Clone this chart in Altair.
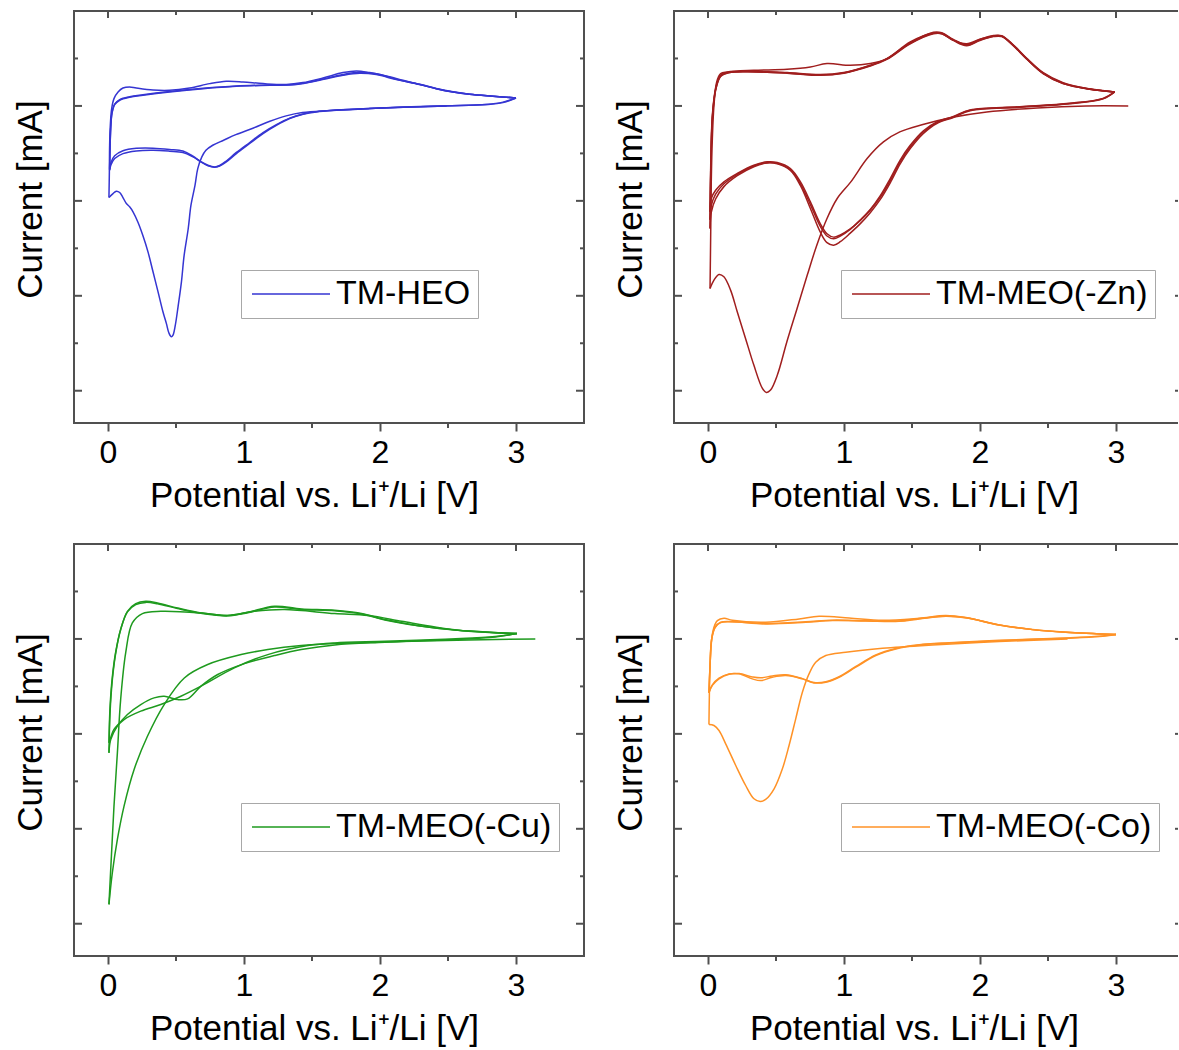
import altair as alt
import pandas as pd

FONT = "Liberation Sans"
FRAME = "#505050"

# ---------------- TM-HEO ----------------
HEO_C1_V = [2.49, 1.92, 1.63, 1.43, 1.31, 1.19, 1.07, 0.94, 0.85, 0.77, 0.72, 0.69, 0.66, 0.64, 0.61, 0.59, 0.56, 0.54, 0.515, 0.495, 0.478, 0.466, 0.449, 0.429, 0.404, 0.368, 0.331, 0.294, 0.257, 0.221, 0.184, 0.159, 0.135, 0.11, 0.086, 0.061, 0.037, 0.007]
HEO_C1_I = [0.0, -0.028, -0.049, -0.07, -0.105, -0.161, -0.232, -0.302, -0.361, -0.414, -0.467, -0.537, -0.66, -0.835, -1.046, -1.291, -1.572, -1.853, -2.116, -2.309, -2.414, -2.432, -2.396, -2.291, -2.168, -1.958, -1.747, -1.537, -1.368, -1.228, -1.116, -1.063, -1.028, -0.965, -0.912, -0.898, -0.923, -0.965]
HEO_A1_V = [0.007, 0.01, 0.012, 0.017, 0.027, 0.044, 0.074, 0.11, 0.159, 0.208, 0.331, 0.453, 0.6, 0.748, 0.87, 0.993, 1.14, 1.311, 1.434, 1.581, 1.728, 1.826, 1.924, 2.047, 2.169, 2.292, 2.414, 2.537, 2.659, 2.831, 3.0]
HEO_A1_I = [-0.965, -0.695, -0.414, -0.204, -0.028, 0.077, 0.147, 0.189, 0.2, 0.189, 0.168, 0.165, 0.189, 0.235, 0.26, 0.253, 0.235, 0.225, 0.246, 0.295, 0.351, 0.368, 0.351, 0.316, 0.27, 0.225, 0.182, 0.147, 0.123, 0.102, 0.084]
HEO_C2_V = [3.0, 2.904, 2.782, 2.488, 2.169, 1.924, 1.679, 1.532, 1.434, 1.336, 1.238, 1.14, 1.042, 0.944, 0.87, 0.821, 0.784, 0.735, 0.686, 0.625, 0.551, 0.453, 0.331, 0.208, 0.11, 0.049, 0.022, 0.012]
HEO_C2_I = [0.084, 0.035, 0.014, 0.0, -0.014, -0.028, -0.046, -0.063, -0.088, -0.133, -0.204, -0.291, -0.396, -0.502, -0.589, -0.632, -0.642, -0.625, -0.589, -0.537, -0.491, -0.477, -0.467, -0.474, -0.502, -0.554, -0.618, -0.677]
HEO_C3_I = [0.084, 0.04, 0.016, 0.002, -0.012, -0.026, -0.043, -0.06, -0.085, -0.128, -0.196, -0.28, -0.385, -0.49, -0.58, -0.628, -0.645, -0.63, -0.592, -0.53, -0.475, -0.458, -0.445, -0.447, -0.472, -0.525, -0.595, -0.66]
HEO_A2_V = [0.012, 0.015, 0.02, 0.029, 0.049, 0.086, 0.159, 0.257, 0.453, 0.699, 0.944, 1.189, 1.385, 1.556, 1.728, 1.85, 1.973, 2.12, 2.292, 2.414, 2.537, 2.659, 2.831, 3.0]
HEO_A2_I = [-0.677, -0.449, -0.239, -0.081, 0.014, 0.06, 0.091, 0.112, 0.147, 0.182, 0.207, 0.218, 0.225, 0.27, 0.323, 0.344, 0.33, 0.277, 0.225, 0.182, 0.147, 0.123, 0.102, 0.084]
HEO_A3_I = [-0.66, -0.44, -0.23, -0.075, 0.018, 0.066, 0.097, 0.118, 0.152, 0.186, 0.21, 0.22, 0.228, 0.275, 0.332, 0.355, 0.338, 0.282, 0.228, 0.184, 0.149, 0.124, 0.103, 0.084]

# ---------------- TM-MEO(-Zn) ----------------
ZN_C1_V = [3.09, 2.78, 2.42, 2.05, 1.80, 1.58, 1.41, 1.29, 1.17, 1.05, 0.95, 0.875, 0.80, 0.73, 0.655, 0.58, 0.51, 0.46, 0.43, 0.40, 0.337, 0.276, 0.215, 0.166, 0.117, 0.081, 0.044, 0.015]
ZN_C1_I = [0.0, 0.0, -0.021, -0.063, -0.119, -0.196, -0.274, -0.379, -0.554, -0.8, -0.975, -1.186, -1.467, -1.782, -2.133, -2.484, -2.835, -2.993, -3.018, -2.975, -2.73, -2.449, -2.168, -1.94, -1.8, -1.775, -1.835, -1.923]
ZN_A1_V = [0.015, 0.02, 0.024, 0.032, 0.044, 0.064, 0.093, 0.142, 0.337, 0.582, 0.753, 0.875, 1.046, 1.193, 1.315, 1.487, 1.658, 1.719, 1.804, 1.902, 1.999, 2.098, 2.159, 2.244, 2.342, 2.465, 2.611, 2.807, 2.99]
ZN_A1_I = [-1.923, -1.326, -0.8, -0.344, 0.007, 0.253, 0.34, 0.358, 0.375, 0.386, 0.41, 0.446, 0.428, 0.446, 0.498, 0.674, 0.768, 0.761, 0.691, 0.656, 0.702, 0.737, 0.737, 0.639, 0.498, 0.34, 0.235, 0.175, 0.147]
ZN_C2_V = [2.99, 2.905, 2.66, 2.293, 1.927, 1.804, 1.682, 1.584, 1.487, 1.413, 1.34, 1.267, 1.193, 1.12, 1.046, 0.973, 0.924, 0.875, 0.826, 0.753, 0.68, 0.606, 0.509, 0.435, 0.337, 0.215, 0.117, 0.056, 0.024, 0.015]
ZN_C2_I = [0.147, 0.077, 0.025, -0.011, -0.046, -0.116, -0.175, -0.274, -0.432, -0.589, -0.786, -0.961, -1.1, -1.207, -1.295, -1.358, -1.382, -1.347, -1.242, -1.011, -0.8, -0.66, -0.596, -0.589, -0.625, -0.712, -0.8, -0.888, -0.975, -1.116]
ZN_C3_I = [0.147, 0.08, 0.028, -0.008, -0.042, -0.11, -0.168, -0.262, -0.415, -0.57, -0.765, -0.945, -1.09, -1.2, -1.3, -1.37, -1.4, -1.37, -1.27, -1.04, -0.82, -0.672, -0.605, -0.598, -0.632, -0.72, -0.82, -0.93, -1.05, -1.2]
ZN_C4_I = [0.147, 0.074, 0.022, -0.014, -0.05, -0.122, -0.185, -0.29, -0.45, -0.61, -0.81, -0.985, -1.125, -1.24, -1.34, -1.43, -1.467, -1.44, -1.33, -1.08, -0.84, -0.68, -0.61, -0.6, -0.64, -0.735, -0.85, -0.98, -1.12, -1.29]
ZN_A2_V = [0.015, 0.02, 0.032, 0.056, 0.093, 0.154, 0.337, 0.582, 0.826, 0.998, 1.193, 1.315, 1.487, 1.658, 1.719, 1.804, 1.902, 1.999, 2.098, 2.159, 2.244, 2.342, 2.465, 2.611, 2.807, 2.99]
ZN_A2_I = [-1.116, -0.625, -0.098, 0.182, 0.323, 0.358, 0.365, 0.351, 0.33, 0.351, 0.428, 0.498, 0.665, 0.775, 0.77, 0.7, 0.645, 0.7, 0.742, 0.74, 0.645, 0.505, 0.35, 0.245, 0.18, 0.147]
ZN_A3_I = [-1.2, -0.68, -0.12, 0.17, 0.315, 0.352, 0.36, 0.348, 0.325, 0.348, 0.425, 0.495, 0.66, 0.765, 0.765, 0.695, 0.64, 0.695, 0.735, 0.735, 0.64, 0.5, 0.345, 0.24, 0.178, 0.147]
ZN_A4_I = [-1.29, -0.75, -0.14, 0.165, 0.31, 0.35, 0.358, 0.345, 0.322, 0.345, 0.42, 0.49, 0.655, 0.76, 0.76, 0.69, 0.635, 0.69, 0.73, 0.73, 0.635, 0.495, 0.34, 0.235, 0.175, 0.147]

# ---------------- TM-MEO(-Cu) ----------------
CU_C1_V = [3.142, 2.651, 2.159, 1.667, 1.421, 1.175, 0.979, 0.733, 0.561, 0.413, 0.29, 0.192, 0.118, 0.069, 0.032, 0.007]
CU_C1_I = [0.0, -0.011, -0.028, -0.049, -0.07, -0.112, -0.165, -0.27, -0.411, -0.691, -1.025, -1.375, -1.761, -2.112, -2.463, -2.796]
CU_A1_V = [0.007, 0.025, 0.044, 0.069, 0.093, 0.13, 0.179, 0.253, 0.388, 0.684, 0.88, 1.077, 1.298, 1.667, 1.913, 2.159, 2.405, 2.651, 3.007]
CU_A1_I = [-2.796, -2.288, -1.761, -1.2, -0.639, -0.147, 0.168, 0.267, 0.291, 0.274, 0.246, 0.291, 0.309, 0.267, 0.246, 0.186, 0.126, 0.081, 0.056]
CU_C2_V = [3.007, 2.847, 2.528, 2.036, 1.667, 1.421, 1.224, 1.003, 0.807, 0.684, 0.585, 0.511, 0.413, 0.339, 0.241, 0.143, 0.069, 0.02, 0.007]
CU_C2_I = [0.056, 0.021, -0.007, -0.035, -0.063, -0.112, -0.175, -0.26, -0.375, -0.498, -0.632, -0.639, -0.604, -0.621, -0.691, -0.796, -0.919, -1.06, -1.2]
CU_C3_V = [3.007, 2.847, 2.528, 2.036, 1.667, 1.47, 1.175, 0.929, 0.684, 0.536, 0.388, 0.241, 0.118, 0.044, 0.01]
CU_C3_I = [0.056, 0.025, 0.0, -0.025, -0.042, -0.07, -0.165, -0.305, -0.498, -0.604, -0.691, -0.761, -0.849, -0.954, -1.095]
CU_A2_V = [0.007, 0.015, 0.032, 0.057, 0.093, 0.143, 0.204, 0.278, 0.364, 0.511, 0.684, 0.88, 1.028, 1.224, 1.421, 1.667, 1.864, 2.036, 2.282, 2.528, 2.774, 3.007]
CU_A2_I = [-1.2, -0.779, -0.428, -0.147, 0.098, 0.291, 0.372, 0.396, 0.379, 0.326, 0.274, 0.246, 0.281, 0.344, 0.316, 0.302, 0.267, 0.204, 0.14, 0.098, 0.074, 0.056]
CU_A3_I = [-1.095, -0.72, -0.4, -0.135, 0.1, 0.285, 0.362, 0.385, 0.37, 0.32, 0.27, 0.243, 0.276, 0.336, 0.31, 0.296, 0.262, 0.2, 0.138, 0.097, 0.073, 0.056]

# ---------------- TM-MEO(-Co) ----------------
CO_C1_V = [2.644, 2.141, 1.651, 1.283, 1.013, 0.866, 0.792, 0.743, 0.694, 0.645, 0.596, 0.547, 0.486, 0.424, 0.383, 0.338, 0.277, 0.204, 0.13, 0.081, 0.044, 0.007]
CO_C1_I = [0.0, -0.028, -0.063, -0.098, -0.14, -0.175, -0.246, -0.368, -0.561, -0.842, -1.123, -1.368, -1.579, -1.691, -1.712, -1.684, -1.544, -1.333, -1.105, -0.965, -0.912, -0.902]
CO_A1_V = [0.007, 0.01, 0.017, 0.037, 0.069, 0.118, 0.179, 0.424, 0.67, 0.817, 1.038, 1.283, 1.553, 1.749, 1.896, 2.141, 2.387, 2.632, 3.0]
CO_A1_I = [-0.902, -0.596, -0.211, 0.088, 0.193, 0.218, 0.196, 0.175, 0.211, 0.239, 0.221, 0.196, 0.218, 0.246, 0.225, 0.147, 0.098, 0.07, 0.046]
CO_C2_V = [3.0, 2.877, 2.632, 2.141, 1.773, 1.553, 1.381, 1.234, 1.087, 0.964, 0.866, 0.78, 0.694, 0.572, 0.473, 0.388, 0.326, 0.228, 0.155, 0.081, 0.032, 0.007]
CO_C2_I = [0.046, 0.025, 0.007, -0.018, -0.042, -0.063, -0.105, -0.175, -0.298, -0.404, -0.456, -0.463, -0.421, -0.386, -0.404, -0.439, -0.421, -0.368, -0.368, -0.414, -0.484, -0.561]
CO_C3_I = [0.046, 0.028, 0.01, -0.015, -0.04, -0.06, -0.1, -0.168, -0.29, -0.398, -0.452, -0.46, -0.418, -0.378, -0.39, -0.41, -0.4, -0.365, -0.372, -0.42, -0.49, -0.57]
CO_A2_V = [0.007, 0.015, 0.027, 0.052, 0.093, 0.179, 0.424, 0.719, 0.915, 1.16, 1.405, 1.553, 1.749, 1.896, 2.141, 2.387, 2.632, 3.0]
CO_A2_I = [-0.561, -0.281, 0.0, 0.123, 0.175, 0.182, 0.158, 0.175, 0.193, 0.189, 0.186, 0.211, 0.239, 0.222, 0.147, 0.098, 0.07, 0.046]
CO_A3_I = [-0.57, -0.29, -0.005, 0.12, 0.172, 0.18, 0.162, 0.18, 0.198, 0.192, 0.19, 0.214, 0.242, 0.224, 0.148, 0.099, 0.07, 0.046]

PANELS = [
    ("TM-HEO", "#3535d2", [
        ("c1", HEO_C1_V, HEO_C1_I), ("a1", HEO_A1_V, HEO_A1_I),
        ("c2", HEO_C2_V, HEO_C2_I), ("a2", HEO_A2_V, HEO_A2_I),
        ("c3", HEO_C2_V, HEO_C3_I), ("a3", HEO_A2_V, HEO_A3_I)]),
    ("TM-MEO(-Zn)", "#a01e1e", [
        ("c1", ZN_C1_V, ZN_C1_I), ("a1", ZN_A1_V, ZN_A1_I),
        ("c2", ZN_C2_V, ZN_C2_I), ("a2", ZN_A2_V, ZN_A2_I),
        ("c3", ZN_C2_V, ZN_C3_I), ("a3", ZN_A2_V, ZN_A3_I),
        ("c4", ZN_C2_V, ZN_C4_I), ("a4", ZN_A2_V, ZN_A4_I)]),
    ("TM-MEO(-Cu)", "#1e9a1e", [
        ("c1", CU_C1_V, CU_C1_I), ("a1", CU_A1_V, CU_A1_I),
        ("c2", CU_C2_V, CU_C2_I), ("a2", CU_A2_V, CU_A2_I),
        ("c3", CU_C3_V, CU_C3_I), ("a3", CU_A2_V, CU_A3_I)]),
    ("TM-MEO(-Co)", "#ff9226", [
        ("c1", CO_C1_V, CO_C1_I), ("a1", CO_A1_V, CO_A1_I),
        ("c2", CO_C2_V, CO_C2_I), ("a2", CO_A2_V, CO_A2_I),
        ("c3", CO_C2_V, CO_C3_I), ("a3", CO_A2_V, CO_A3_I)]),
]

X_MAJOR = [0, 1, 2, 3]
X_MINOR = [0.5, 1.5, 2.5]
Y_MAJOR = [0, -1, -2, -3]
Y_MINOR = [0.5, -0.5, -1.5, -2.5]
Y_DOMAIN = [-3.34, 1.0]
PX_PER_V = 136.0
H = 412
W_LEFT = 510   # left column: -0.25 .. 3.5 V
W_RIGHT = 504  # right column is cut by the page edge, as in the original


def make_panel(name, color, sweeps, width, cut_right):
    x_domain = [-0.25, -0.25 + width / PX_PER_V]
    rows = []
    for sid, vs, cs in sweeps:
        for k, (v, c) in enumerate(zip(vs, cs)):
            rows.append({"sample": name, "sweep": sid, "k": k, "V": v, "I": c})
    df = pd.DataFrame(rows)

    xenc = alt.X("V:Q", scale=alt.Scale(domain=x_domain, nice=False, zero=False),
                 axis=alt.Axis(values=X_MAJOR, format="d", labelFontSize=32, labelFont=FONT,
                               labelColor="black", labelPadding=6, tickSize=8, tickWidth=2,
                               tickColor=FRAME, domain=False, grid=False,
                               title="Potential vs. Li⁺/Li [V]", titleFont=FONT, titleFontSize=35,
                               titleFontWeight="normal", titleColor="black", titleX=240, titleY=83,
                               titleAlign="center", titleBaseline="alphabetic"))
    yenc = alt.Y("I:Q", scale=alt.Scale(domain=Y_DOMAIN, nice=False, zero=False),
                 axis=alt.Axis(labels=False, ticks=False, domain=False, grid=False,
                               title="Current [mA]", titleFont=FONT, titleFontSize=35,
                               titleFontWeight="normal", titleColor="black", titleX=-33, titleY=188,
                               titleAlign="center", titleBaseline="alphabetic", titleAngle=270))

    lines = alt.Chart(df).mark_line(strokeWidth=1.5, interpolate="catmull-rom").encode(
        x=xenc, y=yenc,
        color=alt.Color("sample:N", scale=alt.Scale(domain=[name], range=[color]),
                        legend=alt.Legend(orient="none", legendX=167, legendY=259, title=None,
                                          symbolType="M-1,0H5", symbolSize=676, symbolStrokeWidth=1.6,
                                          labelFontSize=34, labelFont=FONT, labelColor="black",
                                          labelLimit=600, labelOffset=54, padding=7,
                                          strokeColor="#a8a8a8", fillColor="white")),
        detail="sweep:N", order="k:Q")

    xmaj = pd.DataFrame({"V": X_MAJOR})
    xmin = pd.DataFrame({"V": X_MINOR})
    ymaj = pd.DataFrame({"I": Y_MAJOR})
    ymin = pd.DataFrame({"I": Y_MINOR})
    rule = dict(color=FRAME, strokeWidth=2)
    layers = [
        lines,
        alt.Chart(xmaj).mark_rule(**rule).encode(x=xenc, y=alt.value(0), y2=alt.value(7)),
        alt.Chart(xmin).mark_rule(**rule).encode(x=xenc, y=alt.value(0), y2=alt.value(4)),
        alt.Chart(xmin).mark_rule(**rule).encode(x=xenc, y=alt.value(H), y2=alt.value(H + 5)),
        alt.Chart(ymaj).mark_rule(**rule).encode(y=yenc, x=alt.value(0), x2=alt.value(8)),
        alt.Chart(ymin).mark_rule(**rule).encode(y=yenc, x=alt.value(0), x2=alt.value(4)),
    ]
    if not cut_right:
        layers += [
            alt.Chart(ymaj).mark_rule(**rule).encode(y=yenc, x=alt.value(width - 8), x2=alt.value(width)),
            alt.Chart(ymin).mark_rule(**rule).encode(y=yenc, x=alt.value(width - 4), x2=alt.value(width)),
        ]
        return alt.layer(*layers).properties(width=width, height=H)

    # the right frame of this column lies beyond the page edge: draw only the three
    # visible sides of the frame and the tips of the right-hand ticks
    frame_df = pd.DataFrame({"I": [0]})
    layers += [
        alt.Chart(ymaj).mark_rule(**rule).encode(y=yenc, x=alt.value(width - 3), x2=alt.value(width)),
        alt.Chart(frame_df).mark_rule(**rule).encode(x=alt.value(0), y=alt.value(-1), y2=alt.value(H + 1)),
        alt.Chart(frame_df).mark_rule(**rule).encode(y=alt.value(0), x=alt.value(-1), x2=alt.value(width)),
        alt.Chart(frame_df).mark_rule(**rule).encode(y=alt.value(H), x=alt.value(-1), x2=alt.value(width)),
    ]
    return alt.layer(*layers).properties(
        width=width, height=H, view=alt.ViewBackground(strokeOpacity=0)
    )


p1 = make_panel(*PANELS[0], W_LEFT, False)
p2 = make_panel(*PANELS[1], W_RIGHT, True)
p3 = make_panel(*PANELS[2], W_LEFT, False)
p4 = make_panel(*PANELS[3], W_RIGHT, True)

row1 = alt.hconcat(p1, p2, spacing=90, bounds="flush").resolve_scale(color="independent")
row2 = alt.hconcat(p3, p4, spacing=90, bounds="flush").resolve_scale(color="independent")

chart = alt.vconcat(row1, row2, spacing=28).resolve_scale(
    color="independent"
).configure_view(stroke=FRAME, strokeWidth=2).properties(
    padding={"left": 12, "top": 9, "right": 0, "bottom": 0}, background="white"
)

chart.save("out.html", embed_options={"renderer": "svg", "actions": False})
